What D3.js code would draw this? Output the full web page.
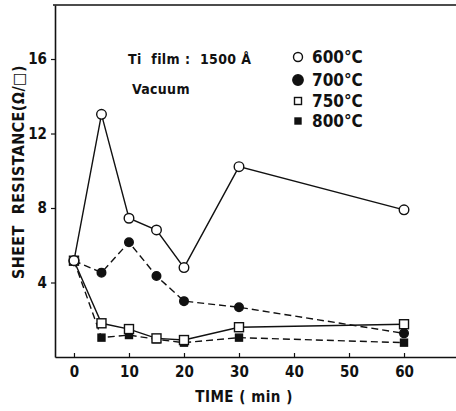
<!DOCTYPE html>
<html>
<head>
<meta charset="utf-8">
<script src="https://cdn.jsdelivr.net/npm/d3@7"></script>
<style>
  body { margin: 0; background: #fff; }
  text { font-family: "Liberation Sans Narrow", "DejaVu Sans Condensed", "Arial Narrow", sans-serif; font-weight: bold; fill: #111; }
</style>
</head>
<body>
<div class="container"></div>
<script>
var times = [0, 5, 10, 15, 20, 30, 60];
var r600 = [5.17, 13.03, 7.45, 6.82, 4.8, 10.22, 7.9];
var r700 = [5.17, 4.53, 6.16, 4.35, 3.0, 2.67, 1.27];
var r750 = [5.17, 1.81, 1.5, 1.0, 0.91, 1.6, 1.76];
var r800 = [5.17, 1.04, 1.18, 0.95, 0.77, 1.04, 0.77];
var xTicks = [0, 10, 20, 30, 40, 50, 60];
var yTicks = [4, 8, 12, 16];
var legendLabels = ["600°C", "700°C", "750°C", "800°C"];

const WIDTH = 456;
const HEIGHT = 411;
const LEFT = 55;
const TOP = 5;
const BOTTOM = 357;

var translate = function(x, y){
	return "translate(" + x + "," + y + ")";
};

var svg = d3.select('.container').append('svg')
	.attr('width', WIDTH)
	.attr('height', HEIGHT);

var xScale = d3.scaleLinear()
	.domain([-3.45, 69.45])
	.range([LEFT, WIDTH]);

var yScale = d3.scaleLinear()
	.domain([0, 18.9])
	.range([BOTTOM, TOP]);

// frame: top line
svg.append('line')
	.attr('x1', LEFT - 2).attr('x2', WIDTH)
	.attr('y1', TOP).attr('y2', TOP)
	.attr('stroke', '#111').attr('stroke-width', 1.6);

var xAxis = d3.axisBottom(xScale)
	.tickValues(xTicks)
	.tickSizeInner(-4)
	.tickSizeOuter(0)
	.tickPadding(9);

var yAxis = d3.axisLeft(yScale)
	.tickValues(yTicks)
	.tickSizeInner(4)
	.tickSizeOuter(0)
	.tickPadding(4);

var gx = svg.append('g')
	.attr('transform', translate(0, BOTTOM))
	.call(xAxis);

var gy = svg.append('g')
	.attr('transform', translate(LEFT, 0))
	.call(yAxis);

[gx, gy].forEach(function(g){
	g.select('.domain').attr('stroke', '#111').attr('stroke-width', 1.6);
	g.selectAll('.tick line').attr('stroke', '#111').attr('stroke-width', 1.2);
	g.selectAll('.tick text').attr('font-size', 15).attr('fill', '#111')
		.style('font-family', '"Liberation Sans Narrow", "DejaVu Sans Condensed", sans-serif')
		.style('font-weight', 'bold');
});

// axis titles
svg.append('text')
	.attr('x', 244).attr('y', 402)
	.attr('text-anchor', 'middle')
	.attr('font-size', 15)
	.attr('letter-spacing', 0.5)
	.style('white-space', 'pre')
	.text('TIME ( min )');

svg.append('text')
	.attr('transform', translate(24, 172) + ' rotate(-90)')
	.attr('text-anchor', 'middle')
	.attr('font-size', 16)
	.attr('letter-spacing', 0.4)
	.style('white-space', 'pre')
	.text('SHEET  RESISTANCE(Ω/□)');

// series
var series = [
	{ values: r600, dash: null, marker: 'circle', fill: '#fff', size: 4.8 },
	{ values: r700, dash: '7,4', marker: 'circle', fill: '#111', size: 4.3 },
	{ values: r750, dash: null, marker: 'square', fill: '#fff', size: 9 },
	{ values: r800, dash: '7,4', marker: 'square', fill: '#111', size: 7 }
];

var line = d3.line()
	.x(function(d){ return xScale(d[0]); })
	.y(function(d){ return yScale(d[1]); });

series.forEach(function(s){
	var pts = times.map(function(t, i){ return [t, s.values[i]]; });
	svg.append('path')
		.attr('d', line(pts))
		.attr('fill', 'none')
		.attr('stroke', '#111')
		.attr('stroke-width', 1.4)
		.attr('stroke-dasharray', s.dash);
});

series.slice().reverse().forEach(function(s){
	var pts = times.map(function(t, i){ return [t, s.values[i]]; });
	var g = svg.append('g');
	if (s.marker === 'circle') {
		g.selectAll('circle').data(pts).enter().append('circle')
			.attr('cx', function(d){ return xScale(d[0]); })
			.attr('cy', function(d){ return yScale(d[1]); })
			.attr('r', s.size)
			.attr('fill', s.fill)
			.attr('stroke', '#111')
			.attr('stroke-width', 1.4);
	} else {
		g.selectAll('rect').data(pts).enter().append('rect')
			.attr('x', function(d){ return xScale(d[0]) - s.size / 2; })
			.attr('y', function(d){ return yScale(d[1]) - s.size / 2; })
			.attr('width', s.size).attr('height', s.size)
			.attr('fill', s.fill)
			.attr('stroke', '#111')
			.attr('stroke-width', 1.4);
	}
});

// shared starting point drawn as open circle on top
svg.append('circle')
	.attr('cx', xScale(times[0])).attr('cy', yScale(r600[0]))
	.attr('r', 4.8).attr('fill', '#fff')
	.attr('stroke', '#111').attr('stroke-width', 1.4);

// annotations
svg.append('text')
	.attr('x', 128).attr('y', 64)
	.attr('font-size', 14)
	.attr('letter-spacing', 0.4)
	.style('white-space', 'pre')
	.text('Ti  film :  1500 Å');

svg.append('text')
	.attr('x', 132).attr('y', 94)
	.attr('font-size', 14)
	.attr('letter-spacing', 0.3)
	.text('Vacuum');

// legend
var legendY = [57, 80, 101, 121];
var legend = svg.append('g');
series.forEach(function(s, i){
	var cx = 298, cy = legendY[i];
	if (s.marker === 'circle') {
		legend.append('circle')
			.attr('cx', cx).attr('cy', cy)
			.attr('r', i === 0 ? 4.5 : 5.2)
			.attr('fill', s.fill).attr('stroke', '#111').attr('stroke-width', 1.4);
	} else {
		var sz = i === 2 ? 7 : 6;
		legend.append('rect')
			.attr('x', cx - sz / 2).attr('y', cy - sz / 2)
			.attr('width', sz).attr('height', sz)
			.attr('fill', s.fill).attr('stroke', '#111').attr('stroke-width', 1.4);
	}
	legend.append('text')
		.attr('x', 312).attr('y', cy + 6)
		.attr('font-size', 17)
		.text(legendLabels[i]);
});
</script>
</body>
</html>
